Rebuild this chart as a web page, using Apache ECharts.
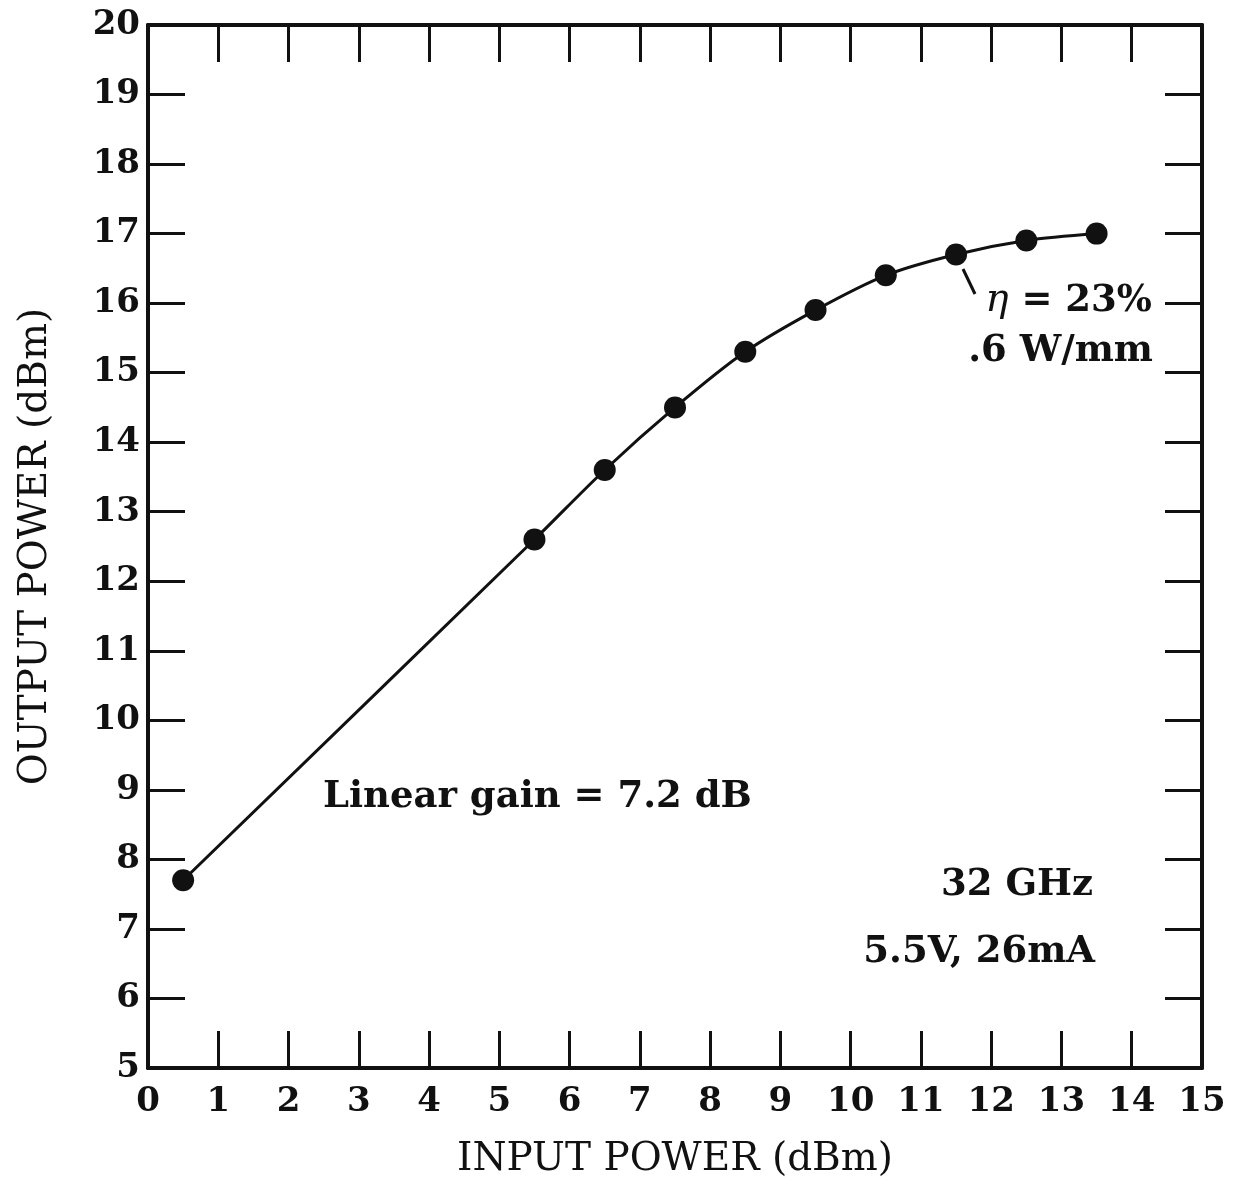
<!DOCTYPE html>
<html>
<head>
<meta charset="utf-8">
<script src="https://cdn.jsdelivr.net/npm/echarts@6/dist/echarts.min.js"></script>
<style>
  html, body { margin: 0; padding: 0; background: #fff; }
  #chart { width: 1234px; height: 1186px; }
</style>
</head>
<body>
<div id="chart"></div>
<script>
// input power (dBm) vs output power (dBm)
const inputPower = [0.5, 5.5, 6.5, 7.5, 8.5, 9.5, 10.5, 11.5, 12.5, 13.5]
const outputPower = [7.7, 12.6, 13.6, 14.5, 15.3, 15.9, 16.4, 16.7, 16.9, 17.0]

const xRange = [0, 15]
const yRange = [5, 20]

const FONT = '"DejaVu Serif", "Liberation Serif", serif'
const INK = '#111'

const chart = echarts.init(document.getElementById('chart'))

const frameAxis = {
  axisLine: { show: true, onZero: false, lineStyle: { color: INK, width: 4 } },
  axisTick: { show: true, inside: true, length: 37, lineStyle: { color: INK, width: 3 } },
  splitLine: { show: false },
  interval: 1
}

const note = (x, y, text, align) => ({
  type: 'text', x, y,
  style: {
    text, fill: INK, font: 'bold 37px ' + FONT,
    textAlign: align, textVerticalAlign: 'middle',
    rich: { e: { fontFamily: FONT, fontStyle: 'italic', fontSize: 39, fill: INK } }
  }
})

chart.setOption({
  animation: false,
  backgroundColor: '#fff',
  grid: { left: 148, right: 32, top: 25, bottom: 118 },
  xAxis: [
    {
      ...frameAxis, type: 'value', min: xRange[0], max: xRange[1], position: 'bottom',
      name: 'INPUT POWER (dBm)', nameLocation: 'middle', nameGap: 72,
      nameTextStyle: { fontFamily: FONT, fontSize: 39, color: INK },
      axisLabel: { color: INK, fontFamily: FONT, fontWeight: 'bold', fontSize: 34, margin: 17 }
    },
    {
      ...frameAxis, type: 'value', min: xRange[0], max: xRange[1], position: 'top',
      axisLabel: { show: false }
    }
  ],
  yAxis: [
    {
      ...frameAxis, type: 'value', min: yRange[0], max: yRange[1], position: 'left',
      name: 'OUTPUT POWER (dBm)', nameLocation: 'middle', nameGap: 93,
      nameTextStyle: { fontFamily: FONT, fontSize: 39, color: INK },
      axisLabel: { color: INK, fontFamily: FONT, fontWeight: 'bold', fontSize: 34, margin: 8 }
    },
    {
      ...frameAxis, type: 'value', min: yRange[0], max: yRange[1], position: 'right',
      axisLabel: { show: false }
    }
  ],
  series: [
    {
      type: 'line',
      data: inputPower.map((x, i) => [x, outputPower[i]]),
      smooth: 0.3,
      symbol: 'circle',
      symbolSize: 22,
      lineStyle: { color: INK, width: 3 },
      itemStyle: { color: INK }
    }
  ],
  graphic: [
    {
      type: 'line',
      shape: { x1: 963, y1: 269, x2: 975, y2: 294 },
      style: { stroke: INK, lineWidth: 3 }
    },
    note(1152, 301, '{e|η} = 23%', 'right'),
    note(1153, 351, '.6 W/mm', 'right'),
    note(323, 797, 'Linear gain = 7.2 dB', 'left'),
    note(1093, 885, '32 GHz', 'right'),
    note(1095, 952, '5.5V, 26mA', 'right')
  ]
})
</script>
</body>
</html>
